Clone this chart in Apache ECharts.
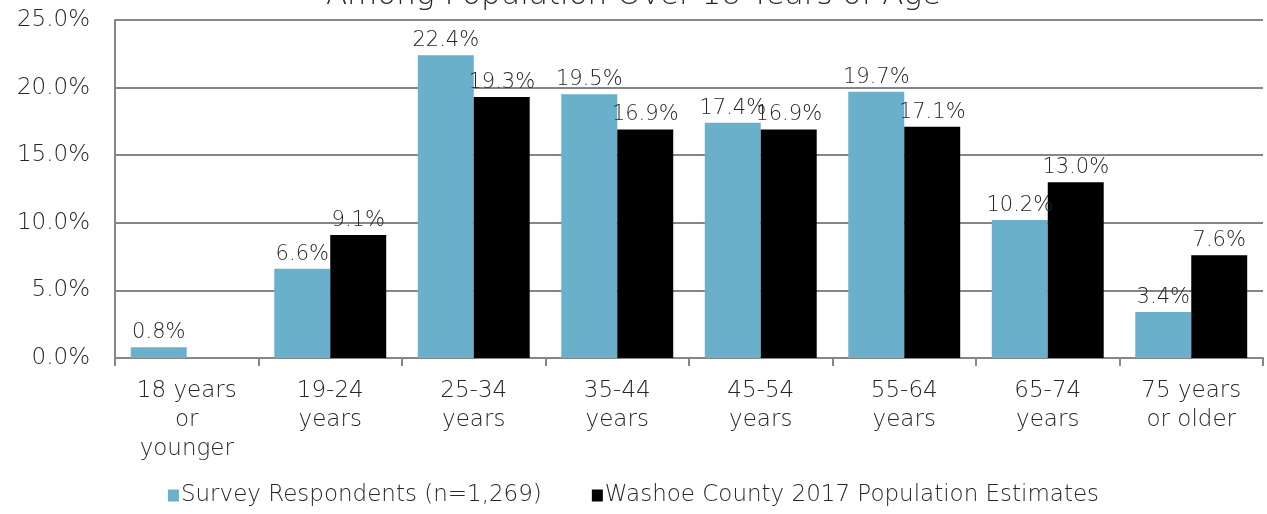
<!DOCTYPE html>
<html>
<head>
<meta charset="utf-8">
<script src="https://cdn.jsdelivr.net/npm/echarts@6/dist/echarts.min.js"></script>
<style>
  html, body { margin: 0; padding: 0; background: #fff; }
  #chart { width: 1267px; height: 514px; }
</style>
</head>
<body>
<div id="chart"></div>
<script>
const categories = ['18 years\nor\nyounger', '19-24\nyears', '25-34\nyears', '35-44\nyears',
  '45-54\nyears', '55-64\nyears', '65-74\nyears', '75 years\nor older']
const surveyValues = [0.8, 6.6, 22.4, 19.5, 17.4, 19.7, 10.2, 3.4]
const countyValues = [null, 9.1, 19.3, 16.9, 16.9, 17.1, 13.0, 7.6]
const seriesNames = ['Survey Respondents (n=1,269)', 'Washoe County 2017 Population Estimates']
const yTicks = { min: 0, max: 25, interval: 5 }

const FONT = 'DejaVu Sans'
const TEXT = '#262626'

const chart = echarts.init(document.getElementById('chart'))

const labelOpt = {
  show: true,
  position: 'top',
  distance: 4,
  color: TEXT,
  fontFamily: FONT,
  fontWeight: 200,
  fontSize: 21,
  formatter: p => p.value == null ? '' : p.value.toFixed(1) + '%'
}

chart.setOption({
  animation: false,
  title: {
    text: 'Among Population Over 18 Years of Age',
    left: 'center',
    top: -25,
    textStyle: { fontFamily: FONT, fontWeight: 200, fontSize: 31, color: TEXT }
  },
  grid: { left: 115, right: 4, top: 20, bottom: 156 },
  legend: {
    bottom: 2,
    left: 'center',
    itemWidth: 11,
    itemHeight: 12,
    itemGap: 50,
    icon: 'rect',
    textStyle: { fontFamily: FONT, fontWeight: 200, fontSize: 23, color: TEXT, padding: [0, 0, 0, -3] },
    data: seriesNames
  },
  xAxis: {
    type: 'category',
    data: categories,
    axisLine: { lineStyle: { color: '#868686', width: 2 } },
    axisTick: { show: true, length: 8, lineStyle: { color: '#868686', width: 2 } },
    axisLabel: {
      color: TEXT, fontFamily: FONT, fontWeight: 200, fontSize: 23,
      lineHeight: 29, margin: 19, interval: 0
    }
  },
  yAxis: {
    type: 'value',
    min: yTicks.min,
    max: yTicks.max,
    interval: yTicks.interval,
    axisLine: { show: true, lineStyle: { color: '#868686', width: 2 } },
    axisTick: { show: false },
    splitLine: { lineStyle: { color: '#868686', width: 2 } },
    axisLabel: {
      color: TEXT, fontFamily: FONT, fontWeight: 200, fontSize: 23, margin: 25,
      formatter: v => v.toFixed(1) + '%'
    }
  },
  series: [
    {
      name: seriesNames[0],
      type: 'bar',
      data: surveyValues,
      itemStyle: { color: '#6AB0CB' },
      barGap: '0%',
      barCategoryGap: '22%',
      label: labelOpt
    },
    {
      name: seriesNames[1],
      type: 'bar',
      data: countyValues,
      itemStyle: { color: '#000000' },
      label: labelOpt
    }
  ]
})
</script>
</body>
</html>
